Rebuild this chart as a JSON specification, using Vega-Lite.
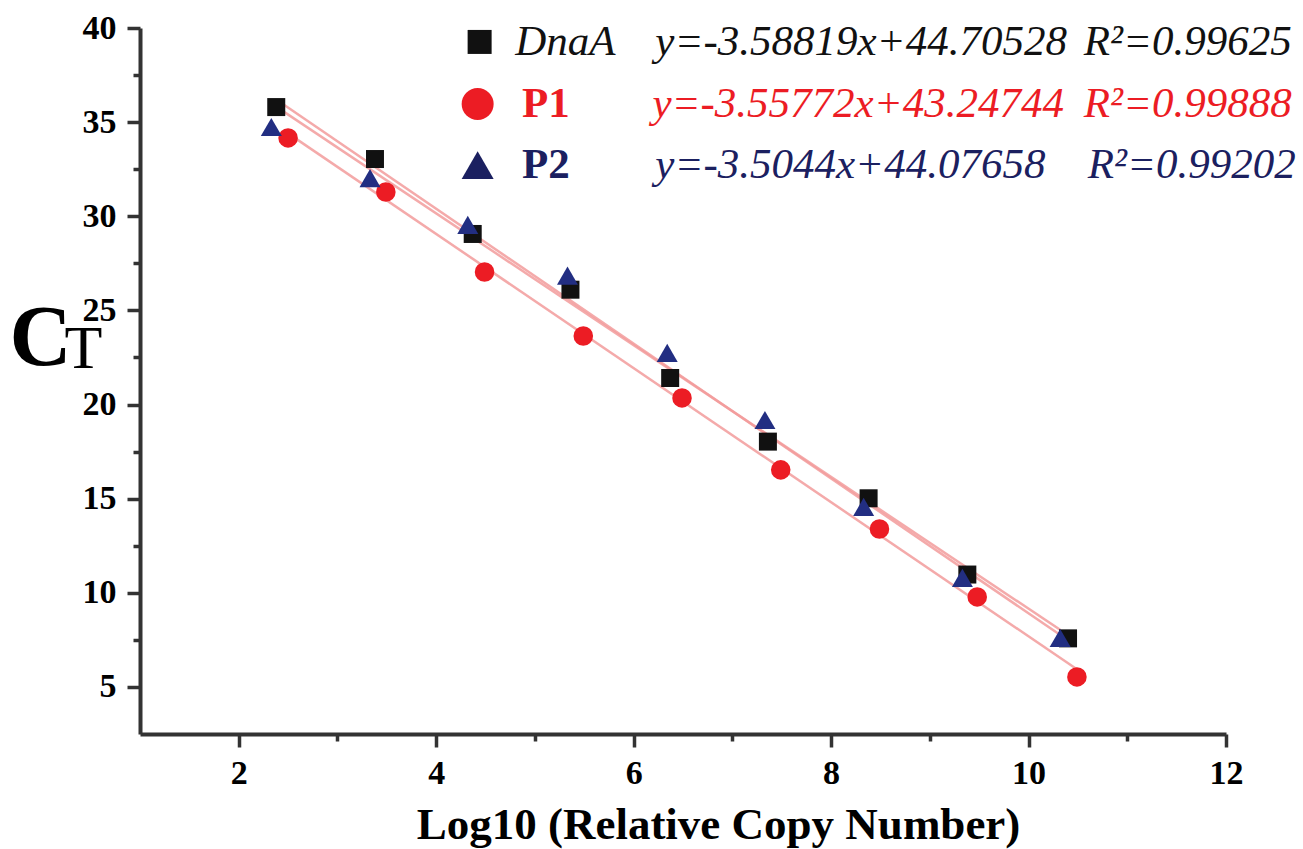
{
  "$schema": "https://vega.github.io/schema/vega-lite/v6.json",
  "width": 1086,
  "height": 706,
  "autosize": {"type": "none"},
  "padding": {"left": 140, "top": 28, "right": 77, "bottom": 115},
  "background": "white",
  "config": {"view": {"stroke": null}, "font": "Liberation Serif"},
  "datasets": {
    "pts": [
      {"series": "DnaA", "logc": 2.38, "ct": 35.80},
      {"series": "DnaA", "logc": 3.38, "ct": 33.04},
      {"series": "DnaA", "logc": 4.37, "ct": 29.06},
      {"series": "DnaA", "logc": 5.36, "ct": 26.10},
      {"series": "DnaA", "logc": 6.37, "ct": 21.41},
      {"series": "DnaA", "logc": 7.36, "ct": 18.03},
      {"series": "DnaA", "logc": 8.38, "ct": 15.02},
      {"series": "DnaA", "logc": 9.38, "ct": 10.97},
      {"series": "DnaA", "logc": 10.40, "ct": 7.58},
      {"series": "P1", "logc": 2.50, "ct": 34.16},
      {"series": "P1", "logc": 3.49, "ct": 31.29},
      {"series": "P1", "logc": 4.49, "ct": 27.04},
      {"series": "P1", "logc": 5.49, "ct": 23.64},
      {"series": "P1", "logc": 6.49, "ct": 20.35},
      {"series": "P1", "logc": 7.49, "ct": 16.53},
      {"series": "P1", "logc": 8.49, "ct": 13.39},
      {"series": "P1", "logc": 9.48, "ct": 9.78},
      {"series": "P1", "logc": 10.49, "ct": 5.53},
      {"series": "P2", "logc": 2.33, "ct": 34.74},
      {"series": "P2", "logc": 3.33, "ct": 32.03},
      {"series": "P2", "logc": 4.32, "ct": 29.54},
      {"series": "P2", "logc": 5.33, "ct": 26.85},
      {"series": "P2", "logc": 6.34, "ct": 22.74},
      {"series": "P2", "logc": 7.33, "ct": 19.18},
      {"series": "P2", "logc": 8.33, "ct": 14.56},
      {"series": "P2", "logc": 9.33, "ct": 10.79},
      {"series": "P2", "logc": 10.32, "ct": 7.60}
    ],
    "leg": [
      {"series": "DnaA", "name": "DnaA", "eq": "y=-3.58819x+44.70528", "r2": "R²=0.99625"},
      {"series": "P1", "name": "P1", "eq": "y=-3.55772x+43.24744", "r2": "R²=0.99888"},
      {"series": "P2", "name": "P2", "eq": "y=-3.5044x+44.07658", "r2": "R²=0.99202"}
    ]
  },
  "layer": [
    {
      "data": {"name": "pts"},
      "transform": [{"regression": "ct", "on": "logc", "groupby": ["series"]}],
      "mark": {"type": "line", "color": "#f29b9b", "strokeWidth": 2.5, "opacity": 0.85},
      "encoding": {
        "x": {"field": "logc", "type": "quantitative", "scale": {"domain": [1, 12], "nice": false, "zero": false}, "axis": null},
        "y": {
          "field": "ct", "type": "quantitative",
          "scale": {"domain": [2.5, 40], "nice": false, "zero": false},
          "axis": {
            "orient": "left", "labels": false, "ticks": false, "domain": false, "grid": false,
            "title": "T", "titleFont": "Liberation Serif", "titleFontSize": 62, "titleFontWeight": "normal",
            "titleAngle": 0, "titleAlign": "center", "titleBaseline": "alphabetic",
            "titleX": -57, "titleY": 339, "titleColor": "#000000"
          }
        },
        "detail": {"field": "series", "type": "nominal"}
      }
    },
    {
      "data": {"name": "pts"},
      "mark": {"type": "point", "filled": true, "opacity": 1},
      "encoding": {
        "x": {
          "field": "logc", "type": "quantitative",
          "axis": {
            "orient": "bottom",
            "values": [2, 3, 4, 5, 6, 7, 8, 9, 10, 11, 12],
            "labelExpr": "datum.value % 2 == 0 ? datum.label : ''",
            "tickSize": {"condition": {"test": "datum.value % 2 == 1", "value": 7}, "value": 13},
            "tickWidth": 3.5, "tickColor": "#333333", "domainColor": "#333333", "domainWidth": 4,
            "labelFont": "Liberation Serif", "labelFontSize": 34, "labelFontWeight": "bold", "labelColor": "#000000",
            "labelPadding": 9, "labelFlush": false, "labelOverlap": false, "grid": false,
            "title": "Log10 (Relative Copy Number)", "titleFont": "Liberation Serif", "titleFontSize": 45,
            "titleFontWeight": "bold", "titleColor": "#000000", "titleX": 578, "titleY": 104,
            "titleAlign": "center", "titleBaseline": "alphabetic"
          }
        },
        "y": {
          "field": "ct", "type": "quantitative",
          "axis": {
            "orient": "left",
            "values": [5, 7.5, 10, 12.5, 15, 17.5, 20, 22.5, 25, 27.5, 30, 32.5, 35, 37.5, 40],
            "labelExpr": "datum.value % 5 == 0 ? datum.label : ''",
            "tickSize": {"condition": {"test": "datum.value % 5 != 0", "value": 7}, "value": 13},
            "tickWidth": 3.5, "tickColor": "#333333", "domainColor": "#333333", "domainWidth": 4,
            "labelFont": "Liberation Serif", "labelFontSize": 34, "labelFontWeight": "bold", "labelColor": "#000000",
            "labelPadding": 11, "labelFlush": false, "labelOverlap": false, "grid": false,
            "title": "C", "titleFont": "Liberation Serif", "titleFontSize": 86, "titleFontWeight": "bold",
            "titleColor": "#000000", "titleAngle": 0, "titleAlign": "center", "titleBaseline": "alphabetic",
            "titleX": -100, "titleY": 336
          }
        },
        "shape": {"field": "series", "type": "nominal", "scale": {"domain": ["DnaA", "P1", "P2"], "range": ["square", "circle", "triangle-up"]}, "legend": null},
        "color": {"field": "series", "type": "nominal", "scale": {"domain": ["DnaA", "P1", "P2"], "range": ["#111111", "#ec1c24", "#222e82"]}, "legend": null},
        "size": {"field": "series", "type": "ordinal", "scale": {"domain": ["DnaA", "P1", "P2"], "range": [324, 441, 484]}, "legend": null}
      }
    },
    {
      "data": {"name": "leg"},
      "transform": [{"filter": "datum.series == 'DnaA'"}],
      "encoding": {"y": {"datum": 39.26, "type": "quantitative", "axis": null}},
      "layer": [
        {"mark": {"type": "point", "filled": true, "shape": "square", "size": 576, "color": "#111111", "opacity": 1}, "encoding": {"x": {"datum": 4.44, "type": "quantitative", "axis": null}}},
        {"mark": {"type": "text", "align": "left", "baseline": "middle", "font": "Liberation Serif", "fontSize": 43, "fontStyle": "italic", "color": "#111111"}, "encoding": {"x": {"datum": 4.8, "type": "quantitative", "axis": null}, "text": {"field": "name", "type": "nominal"}}},
        {"mark": {"type": "text", "align": "left", "baseline": "middle", "font": "Liberation Serif", "fontSize": 43, "fontStyle": "italic", "color": "#111111"}, "encoding": {"x": {"datum": 6.22, "type": "quantitative", "axis": null}, "text": {"field": "eq", "type": "nominal"}}},
        {"mark": {"type": "text", "align": "left", "baseline": "middle", "font": "Liberation Serif", "fontSize": 43, "fontStyle": "italic", "color": "#111111"}, "encoding": {"x": {"datum": 10.56, "type": "quantitative", "axis": null}, "text": {"field": "r2", "type": "nominal"}}}
      ]
    },
    {
      "data": {"name": "leg"},
      "transform": [{"filter": "datum.series == 'P1'"}],
      "encoding": {"y": {"datum": 35.96, "type": "quantitative", "axis": null}},
      "layer": [
        {"mark": {"type": "point", "filled": true, "shape": "circle", "size": 1024, "color": "#ec1c24", "opacity": 1}, "encoding": {"x": {"datum": 4.42, "type": "quantitative", "axis": null}}},
        {"mark": {"type": "text", "align": "left", "baseline": "middle", "font": "Liberation Serif", "fontSize": 43, "fontWeight": "bold", "color": "#ec1c24"}, "encoding": {"x": {"datum": 4.87, "type": "quantitative", "axis": null}, "text": {"field": "name", "type": "nominal"}}},
        {"mark": {"type": "text", "align": "left", "baseline": "middle", "font": "Liberation Serif", "fontSize": 43, "fontStyle": "italic", "color": "#ec1c24"}, "encoding": {"x": {"datum": 6.19, "type": "quantitative", "axis": null}, "text": {"field": "eq", "type": "nominal"}}},
        {"mark": {"type": "text", "align": "left", "baseline": "middle", "font": "Liberation Serif", "fontSize": 43, "fontStyle": "italic", "color": "#ec1c24"}, "encoding": {"x": {"datum": 10.56, "type": "quantitative", "axis": null}, "text": {"field": "r2", "type": "nominal"}}}
      ]
    },
    {
      "data": {"name": "leg"},
      "transform": [{"filter": "datum.series == 'P2'"}],
      "encoding": {"y": {"datum": 32.72, "type": "quantitative", "axis": null}},
      "layer": [
        {"mark": {"type": "point", "filled": true, "shape": "triangle-up", "size": 1024, "color": "#1b2060", "opacity": 1}, "encoding": {"x": {"datum": 4.42, "type": "quantitative", "axis": null}}},
        {"mark": {"type": "text", "align": "left", "baseline": "middle", "font": "Liberation Serif", "fontSize": 43, "fontWeight": "bold", "color": "#1b2060"}, "encoding": {"x": {"datum": 4.87, "type": "quantitative", "axis": null}, "text": {"field": "name", "type": "nominal"}}},
        {"mark": {"type": "text", "align": "left", "baseline": "middle", "font": "Liberation Serif", "fontSize": 43, "fontStyle": "italic", "color": "#1b2060"}, "encoding": {"x": {"datum": 6.22, "type": "quantitative", "axis": null}, "text": {"field": "eq", "type": "nominal"}}},
        {"mark": {"type": "text", "align": "left", "baseline": "middle", "font": "Liberation Serif", "fontSize": 43, "fontStyle": "italic", "color": "#1b2060"}, "encoding": {"x": {"datum": 10.6, "type": "quantitative", "axis": null}, "text": {"field": "r2", "type": "nominal"}}}
      ]
    }
  ],
  "resolve": {"axis": {"x": "independent", "y": "independent"}}
}
